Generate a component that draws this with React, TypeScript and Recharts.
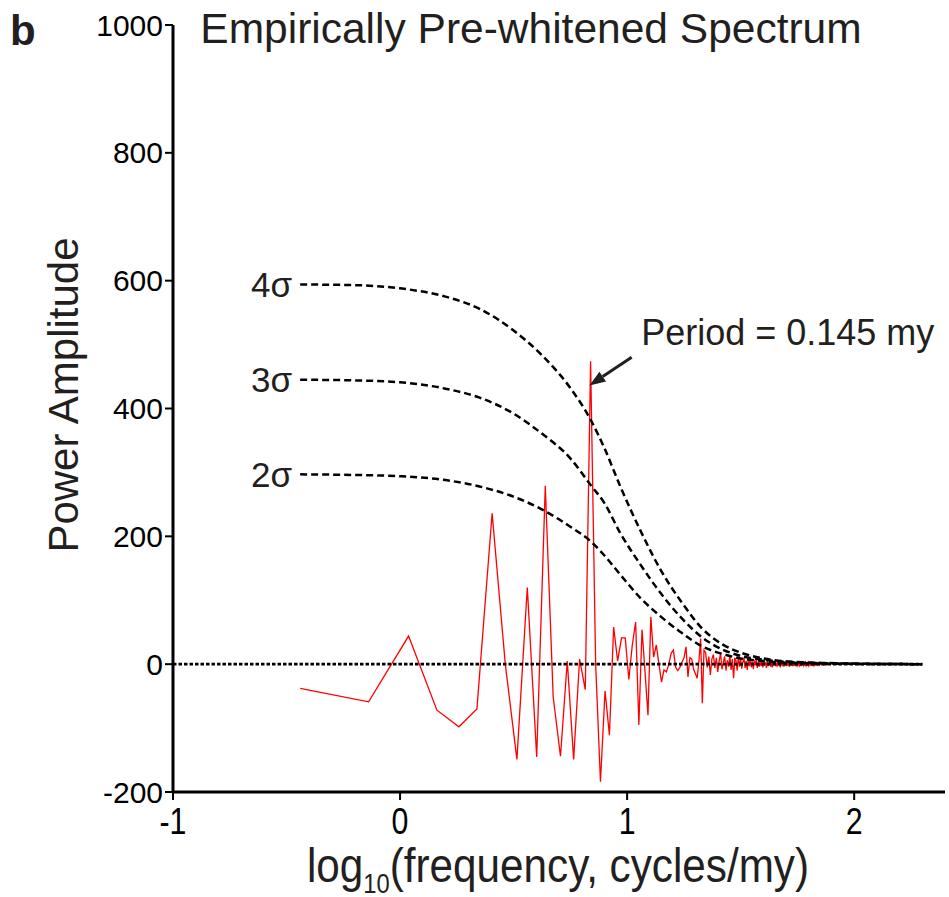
import React from 'react';
import { LineChart, Line, XAxis, YAxis, ReferenceDot, ReferenceLine } from 'recharts';

const FONT = '"Liberation Sans", Arial, Helvetica, sans-serif';
const INK = '#231f20';

// frequency step of the spectrum (cycles/my); point k sits at log10(k * DF)
const DF = 0.3634;

// pre-whitened power, one value per frequency bin
const powerAmplitude = [
  -38, -59, 44, -72, -98, -70, 236, 0, -149, 120,
  -145, 279, -51, -144, 5, -149, 8, -40, 474, 0,
  -184, -42, -111, 58, 5, 41, 41, -24, 30, 66,
  -95, 54, -12, -80, 74, 11, 30, 0, -28, -9,
  -12, 0, 17, 22, -5, -10, -5, 3, 10, 27,
  -20, 10, 8, -8, -15, -22, 5, 40, -61, 22,
  18, -5, 12, -17, 8, 15, -6, 10, -12, 5,
  17, -8, 3, 12, -10, 6, -4, 14, -9, 8,
  -22, 10, 6, -10, 12, -4, 8, -7, 3, 10,
  -6, 5, -9, 7, -3, 9, -5, 4, -8, 6,
  -2, 7, -6, 3, -4, 5, -3, 4, -5, 6,
  -2, 3, -6, 5, -3, 2, 5, -4, 3, -5,
  4, -2, 6, -3, 2, -4, 5, -2, 3, -5,
  2, 4, -3, 1, -4, 3, -2, 4, -3, 2,
  -1, 3, -4, 2, -2, 3, -1, 2, -3, 1,
  2, -3, 1, -2, 3, -1, 2, -2, 1, -3,
  2, -1, 1, 2, -2, 1, -1, 2, -2, 1,
  -1, 1, -2, 2, -1, 1, -1, 2, -1, 1,
  -1, 1, -2, 1, -1, 1, -1, 1, -1, 1,
  0, -1, 1, -1, 1, 0, 1, -1, 0, 1,
  -1, 0, 1, 0, -1, 1, 0, -1, 0, 1,
  0, 0,
];

// confidence levels (dashed curves)
const sigmaX = [-0.44, -0.2, 0, 0.2, 0.35, 0.5, 0.62, 0.75, 0.84, 0.9, 0.97, 1.06, 1.15, 1.24, 1.33, 1.42, 1.5, 1.6, 1.68, 1.86, 2.08, 2.3];
const sigma4 = [594, 593, 588, 575, 556, 522, 485, 432, 382, 338, 278, 208, 146, 97, 56, 31, 18, 9, 5, 2, 0.5, 0];
const sigma3 = [445, 444, 441, 431, 417, 392, 362, 322, 280, 252, 205, 155, 110, 72, 42, 23, 13, 7, 4, 1.5, 0.4, 0];
const sigma2 = [297, 296, 294, 288, 278, 262, 243, 215, 192, 170, 140, 103, 74, 49, 28, 16, 9, 5, 2.5, 1, 0.3, 0];

const xTicks = [-1, 0, 1, 2];
const yTicks = [-200, 0, 200, 400, 600, 800, 1000];

const spectrumData = powerAmplitude.map((y, i) => ({ x: Math.log10((i + 1) * DF), y }));
const toPoints = (ys: number[]) => sigmaX.map((x, i) => ({ x, y: ys[i] }));
const sigma4Data = toPoints(sigma4);
const sigma3Data = toPoints(sigma3);
const sigma2Data = toPoints(sigma2);

const XTick = (props: any) => {
  const { x, y, payload } = props;
  return (
    <text
      transform={`translate(${x},${y + 32}) scale(0.82,1)`}
      textAnchor="middle"
      fontSize={37}
      fontFamily={FONT}
      fill="#000"
    >
      {payload.value}
    </text>
  );
};

const Arrow = (props: any) => {
  const { x1, y1, x2, y2 } = props;
  const a = Math.atan2(y2 - y1, x2 - x1);
  const len = 16;
  const half = 6;
  const bx = x2 - len * Math.cos(a);
  const by = y2 - len * Math.sin(a);
  const pts = [
    `${x2},${y2}`,
    `${bx - half * Math.sin(a)},${by + half * Math.cos(a)}`,
    `${bx + half * Math.sin(a)},${by - half * Math.cos(a)}`,
  ].join(' ');
  return (
    <g>
      <line x1={x1} y1={y1} x2={bx} y2={by} stroke={INK} strokeWidth={3} />
      <polygon points={pts} fill={INK} />
    </g>
  );
};

const sigmaLabel = (value: string) => ({
  value,
  position: 'left' as const,
  offset: 8,
  fontSize: 35,
  fill: INK,
  fontFamily: FONT,
});

export default function App() {
  return (
    <div style={{ position: 'absolute', left: 0, top: 0, width: 949, height: 897, background: '#fff' }}>
      <LineChart width={949} height={897} margin={{ top: 25, right: 4, bottom: 0, left: 0 }}>
        <XAxis
          type="number"
          dataKey="x"
          domain={[-1, 2.4]}
          ticks={xTicks}
          allowDataOverflow
          height={105}
          tickSize={8}
          tick={<XTick />}
          axisLine={{ stroke: '#000', strokeWidth: 3 }}
          tickLine={{ stroke: '#000', strokeWidth: 2 }}
        />
        <YAxis
          type="number"
          domain={[-200, 1000]}
          ticks={yTicks}
          allowDataOverflow
          width={173}
          tickSize={8}
          tick={{ fontSize: 30, fill: '#000', fontFamily: FONT }}
          axisLine={{ stroke: '#000', strokeWidth: 3 }}
          tickLine={{ stroke: '#000', strokeWidth: 2 }}
        />
        <Line
          data={spectrumData}
          dataKey="y"
          type="linear"
          stroke="#ff0000"
          strokeWidth={1.3}
          dot={false}
          isAnimationActive={false}
        />
        <ReferenceLine
          segment={[{ x: -1, y: 0 }, { x: 2.3, y: 0 }]}
          stroke="#000"
          strokeWidth={2.6}
          strokeDasharray="3.5 2"
        />
        {[sigma4Data, sigma3Data, sigma2Data].map((d, i) => (
          <Line
            key={i}
            data={d}
            dataKey="y"
            type="monotone"
            stroke="#000"
            strokeWidth={2.5}
            strokeDasharray="7 4"
            dot={false}
            isAnimationActive={false}
          />
        ))}
        <ReferenceDot x={sigmaX[0]} y={sigma4[0]} r={0} stroke="none" fill="none" label={sigmaLabel('4σ')} />
        <ReferenceDot x={sigmaX[0]} y={sigma3[0]} r={0} stroke="none" fill="none" label={sigmaLabel('3σ')} />
        <ReferenceDot x={sigmaX[0]} y={sigma2[0]} r={0} stroke="none" fill="none" label={sigmaLabel('2σ')} />
        <ReferenceDot
          x={1.062}
          y={519}
          r={0}
          stroke="none"
          fill="none"
          label={{ value: 'Period = 0.145 my', position: 'right', offset: 0, fontSize: 36, fill: INK, fontFamily: FONT }}
        />
        <ReferenceLine segment={[{ x: 1.02, y: 480 }, { x: 0.834, y: 436 }]} shape={<Arrow />} />
      </LineChart>
      <svg
        width={949}
        height={897}
        style={{ position: 'absolute', left: 0, top: 0, pointerEvents: 'none' }}
      >
        <text x={10} y={45} fontSize={42} fontWeight="bold" fontFamily={FONT} fill={INK}>b</text>
        <text x={531} y={43} textAnchor="middle" fontSize={42.5} fontFamily={FONT} fill={INK}>
          Empirically Pre-whitened Spectrum
        </text>
        <text
          transform="translate(78,395) rotate(-90)"
          textAnchor="middle"
          fontSize={42}
          fontFamily={FONT}
          fill={INK}
        >
          Power Amplitude
        </text>
        <text
          transform="translate(558,882) scale(0.88,1)"
          textAnchor="middle"
          fontSize={48}
          fontFamily={FONT}
          fill={INK}
        >
          log<tspan fontSize={27} dy={11}>10</tspan>
          <tspan dy={-11}>(frequency, cycles/my)</tspan>
        </text>
      </svg>
    </div>
  );
}
